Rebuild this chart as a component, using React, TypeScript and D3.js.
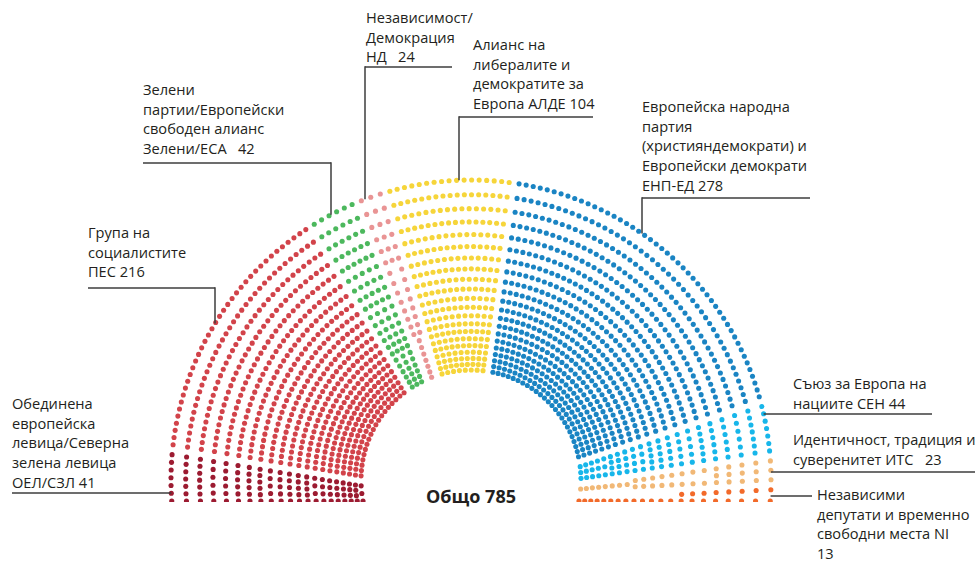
import React from "react";
import * as d3 from "d3";

// ---------- data ----------
const parties = ["ОЕЛ/СЗЛ", "ПЕС", "Зелени/ЕСА", "НД", "АЛДЕ", "ЕНП-ЕД", "СЕН", "ИТС", "NI"];
const seats = [41, 216, 42, 24, 104, 278, 44, 23, 13];
const labelLines = [
  ["Обединена", "европейска", "левица/Северна", "зелена левица", "ОЕЛ/СЗЛ 41"],
  ["Група на", "социалистите", "ПЕС 216"],
  ["Зелени", "партии/Европейски", "свободен алианс", "Зелени/ЕСА   42"],
  ["Независимост/", "Демокрация", "НД   24"],
  ["Алианс на", "либералите и", "демократите за", "Европа АЛДЕ 104"],
  ["Европейска народна", "партия", "(християндемократи) и", "Европейски демократи", "ЕНП-ЕД 278"],
  ["Съюз за Европа на", "нациите СЕН 44"],
  ["Идентичност, традиция и", "суверенитет ИТС   23"],
  ["Независими", "депутати и временно", "свободни места NI", "13"],
];
const totalWord = "Общо";

// ---------- styles ----------
const partyColors = ["#9c1b31", "#d2434a", "#4cb85d", "#e99494", "#f6d53a", "#1a84c3", "#17b6ea", "#f1b876", "#f26a2a"];

// ---------- layout ----------
const W = 976, H = 562;
const cx = 471, cy = 480, rIn = 110, rOut = 300, nRows = 21, drop = 21, gapPx = 10, dotR = 2.55;
const clipY = 502;
const lineH = 19.6;
const fontSize = 14.6;

// label anchor layout: text position and leader geometry
const labelLayout = [
  { tx: 12, ty: 404, mode: "hl", hy: 493, hx: 12 },
  { tx: 88, ty: 233, mode: "v", vx: 215, hy: 288, hx1: 88, hx2: 215 },
  { tx: 143, ty: 90, mode: "v", vx: 331, hy: 163, hx1: 143, hx2: 331 },
  { tx: 366, ty: 18, mode: "v", vx: 365, hy: 67, hx1: 365, hx2: 452 },
  { tx: 473, ty: 45, mode: "v", vx: 459, hy: 117, hx1: 459, hx2: 593 },
  { tx: 642, ty: 107, mode: "v", vx: 642, hy: 198, hx1: 642, hx2: 810 },
  { tx: 793, ty: 384, mode: "hr", hy: 414, hx: 932 },
  { tx: 793, ty: 440, mode: "hr", hy: 472, hx: 975 },
  { tx: 817, ty: 495, mode: "hr", hy: 496, hx: 812 },
];

function buildDots() {
  const total = d3.sum(seats);
  const cum = Array.from(d3.cumsum(seats));
  const starts = [0, ...cum.slice(0, -1)];
  const rowLog = d3.scaleLinear().domain([0, nRows - 1]).range([Math.log(rIn), Math.log(rOut)]);
  const spacing = d3.scaleLinear().domain([rIn, rOut]).range([5.3, 7.2]);
  const dots: { x: number; y: number; c: string; k: string }[] = [];
  for (let i = 0; i < nRows; i++) {
    const r = Math.exp(rowLog(i));
    const beta = Math.asin(drop / r);
    const ang = d3.scaleLinear().domain([0, total]).range([-beta, Math.PI + beta]);
    const half = gapPx / 2 / r;
    const d = spacing(r);
    seats.forEach((s, p) => {
      let a0 = ang(starts[p]);
      let a1 = ang(cum[p]);
      if (p > 0) a0 += half;
      if (p < seats.length - 1) a1 -= half;
      const arc = (a1 - a0) * r;
      const n = arc > 0 ? Math.floor(arc / d) + 1 : 1;
      for (let k = 0; k < n; k++) {
        let phi;
        if (n === 1) {
          phi = p === seats.length - 1 ? a1 : p === 0 ? a0 : (a0 + a1) / 2;
        } else phi = a0 + (k * (a1 - a0)) / (n - 1);
        dots.push({
          x: cx - r * Math.cos(phi),
          y: cy - r * Math.sin(phi),
          c: partyColors[p],
          k: `${i}-${p}-${k}`,
        });
      }
    });
  }
  return dots;
}

function arcYAt(x: number) {
  const dx = x - cx;
  return cy - Math.sqrt(rOut * rOut - dx * dx);
}
function arcXAt(y: number, side: number) {
  const dy = y - cy;
  return cx + side * Math.sqrt(rOut * rOut - dy * dy);
}

export default function App() {
  const dots = buildDots();
  const total = d3.sum(seats);
  const stroke = "#3c3c3c";
  return (
    <svg
      width={W}
      height={H}
      viewBox={`0 0 ${W} ${H}`}
      style={{ position: "absolute", left: 0, top: 0, display: "block", background: "#fff" }}
      fontFamily="'Open Sans', 'Noto Sans', sans-serif"
    >
      <defs>
        <clipPath id="clipBottom">
          <rect x={0} y={0} width={W} height={clipY} />
        </clipPath>
      </defs>
      <g clipPath="url(#clipBottom)">
        {dots.map((d) => (
          <circle key={d.k} cx={d.x} cy={d.y} r={dotR} fill={d.c} />
        ))}
      </g>
      {labelLayout.map((L, i) => {
        let lines: React.ReactNode = null;
        if (L.mode === "v") {
          const yEnd = arcYAt(L.vx!);
          lines = (
            <g>
              <line x1={L.hx1} x2={L.hx2} y1={L.hy} y2={L.hy} stroke={stroke} strokeWidth={1.5} />
              <line x1={L.vx} x2={L.vx} y1={L.hy - 0.75} y2={yEnd} stroke={stroke} strokeWidth={1.5} />
            </g>
          );
        } else if (L.mode === "hl") {
          lines = <line x1={L.hx} x2={arcXAt(L.hy, -1)} y1={L.hy} y2={L.hy} stroke={stroke} strokeWidth={1.5} />;
        } else {
          lines = <line x1={arcXAt(L.hy, 1)} x2={L.hx} y1={L.hy} y2={L.hy} stroke={stroke} strokeWidth={1.5} />;
        }
        return (
          <g key={parties[i]}>
            {lines}
            <text x={L.tx} fontSize={fontSize} fill="#231f20">
              {labelLines[i].map((t, j) => (
                <tspan key={j} x={L.tx} y={L.ty + j * lineH} dy="0.35em" style={{ whiteSpace: "pre" }}>
                  {t}
                </tspan>
              ))}
            </text>
          </g>
        );
      })}
      <text x={cx} y={503} textAnchor="middle" fontSize={18} fontWeight="bold" fill="#231f20">
        {`${totalWord} ${total}`}
      </text>
    </svg>
  );
}
